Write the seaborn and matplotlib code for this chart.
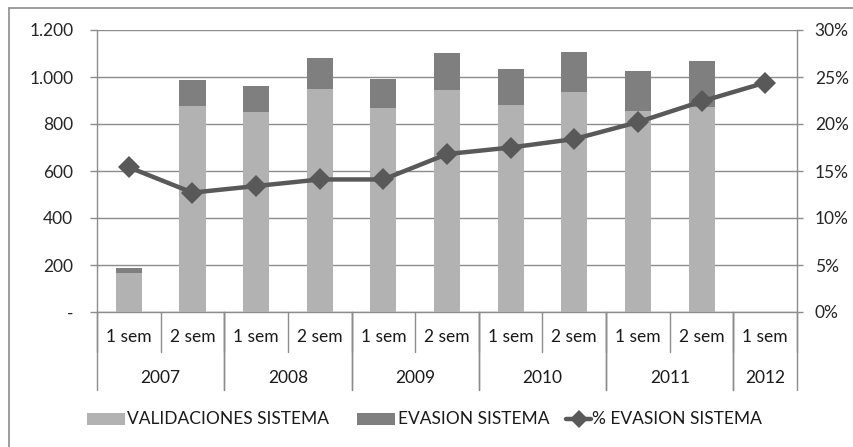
import matplotlib
matplotlib.use("Agg")
import matplotlib.pyplot as plt
from matplotlib.patches import Rectangle
from matplotlib.lines import Line2D
from matplotlib.ticker import FixedLocator, FuncFormatter
import numpy as np
import pandas as pd
import seaborn as sns

# Semesters and years on the two-level category axis
semestres = ["1 sem", "2 sem", "1 sem", "2 sem", "1 sem", "2 sem",
             "1 sem", "2 sem", "1 sem", "2 sem", "1 sem"]
anios = ["2007", "2008", "2009", "2010", "2011", "2012"]
anio_span = [2, 2, 2, 2, 2, 1]

# Series (thousands of trips); 2012 1 sem has only the percentage
validaciones = [167, 877, 851, 949, 869, 945, 881, 935, 855, 874, np.nan]
evasion = [19, 110, 111, 132, 122, 156, 152, 170, 169, 193, np.nan]
pct_evasion = [15.4, 12.7, 13.4, 14.1, 14.1, 16.8, 17.5, 18.4, 20.2, 22.4, 24.4]

LIGHT = "#b2b2b2"
DARK = "#7f7f7f"
LINE = "#595959"
GRID = "#8c8c8c"
FONT = ["Lato", "DejaVu Sans"]
FS = 12.5

sns.set_theme(style="white")
plt.rcParams["font.family"] = FONT
plt.rcParams["text.color"] = "#1a1a1a"

cats = [f"{i:02d}" for i in range(len(semestres))]
df = pd.DataFrame({
    "cat": cats,
    "validaciones": validaciones,
    "total": np.array(validaciones) + np.array(evasion),
    "pct": pct_evasion,
    "pos": np.arange(len(cats)),
})

W, H = 854, 447
fig = plt.figure(figsize=(W / 100, H / 100), dpi=100)
ax = fig.add_axes([97 / W, 1 - 312 / H, 700 / W, 282 / H])

# Stacked bars: full height in dark, validaciones drawn over it in light
sns.barplot(data=df, x="cat", y="total", order=cats, color=DARK,
            width=0.41, saturation=1, linewidth=0, edgecolor="none",
            ax=ax, zorder=2)
sns.barplot(data=df, x="cat", y="validaciones", order=cats, color=LIGHT,
            width=0.41, saturation=1, linewidth=0, edgecolor="none",
            ax=ax, zorder=3)

ax.set_xlim(-0.5, len(cats) - 0.5)
ax.set_ylim(0, 1200)
ax.yaxis.set_major_locator(FixedLocator(np.arange(0, 1201, 200)))
ax.yaxis.set_major_formatter(FuncFormatter(
    lambda v, p: "-" if v == 0 else f"{int(v):,}".replace(",", ".")))
ax.grid(axis="y", color=GRID, linewidth=1.0, zorder=0)
ax.set_axisbelow(True)
ax.set_xlabel("")
ax.set_ylabel("")
ax.set_xticks([])
for s in ["top", "right"]:
    ax.spines[s].set_visible(False)
for s in ["left", "bottom"]:
    ax.spines[s].set_color(GRID)
    ax.spines[s].set_linewidth(1.0)
ax.tick_params(axis="y", length=5, width=1.0, color=GRID, pad=12,
               labelsize=FS, left=True)

# Percentage line on the secondary axis
ax2 = ax.twinx()
sns.lineplot(data=df, x="pos", y="pct", ax=ax2, color=LINE, linewidth=3.2,
             marker="D", markersize=11, markeredgewidth=0, zorder=5)
ax2.set_xlim(-0.5, len(cats) - 0.5)
ax2.set_ylim(0, 30)
ax2.yaxis.set_major_locator(FixedLocator(np.arange(0, 31, 5)))
ax2.yaxis.set_major_formatter(FuncFormatter(lambda v, p: f"{int(v)}%"))
ax2.set_xlabel("")
ax2.set_ylabel("")
for s in ["top", "left", "bottom"]:
    ax2.spines[s].set_visible(False)
ax2.spines["right"].set_color(GRID)
ax2.spines["right"].set_linewidth(1.0)
ax2.tick_params(axis="y", length=4.3, width=1.0, color=GRID, pad=8.5,
                labelsize=FS, right=True)
ax2.grid(False)

# Two-level category labels below the plot
trans = ax.get_xaxis_transform()
px = 1 / 282  # one pixel in axes-height units
for i, lab in enumerate(semestres):
    ax.text(i, -25 * px, lab, transform=trans, ha="center", va="center",
            fontsize=FS, family=FONT)
for b in np.arange(-0.5, len(cats), 1.0):
    ax.add_line(Line2D([b, b], [0, -40 * px], transform=trans,
                       color=GRID, linewidth=1.0, clip_on=False))
start = 0
for yr, span in zip(anios, anio_span):
    ax.text(start + (span - 1) / 2, -66 * px, yr, transform=trans,
            ha="center", va="center", fontsize=FS, family=FONT)
    for b in (start - 0.5, start + span - 0.5):
        ax.add_line(Line2D([b, b], [0, -78 * px], transform=trans,
                           color=GRID, linewidth=1.0, clip_on=False))
    start += span

# Legend row
def fx(x):
    return x / W

def fy(y):
    return 1 - y / H

ly = 419
fig.add_artist(Rectangle((fx(87), fy(ly + 6)), 38 / W, 12 / H,
                         color=LIGHT, lw=0))
fig.text(fx(127), fy(ly), "VALIDACIONES SISTEMA", fontsize=FS,
         va="center", ha="left", family=FONT)
fig.add_artist(Rectangle((fx(357), fy(ly + 6)), 38 / W, 12 / H,
                         color=DARK, lw=0))
fig.text(fx(398), fy(ly), "EVASION SISTEMA", fontsize=FS,
         va="center", ha="left", family=FONT)
fig.add_artist(Line2D([fx(566), fx(591)], [fy(ly), fy(ly)], color=LINE,
                      linewidth=3.2))
fig.add_artist(Line2D([fx(578.5)], [fy(ly)], color=LINE, marker="D",
                      markersize=9, markeredgewidth=0, linestyle="none"))
fig.text(fx(592), fy(ly), "% EVASION SISTEMA", fontsize=FS,
         va="center", ha="left", family=FONT)

# Chart frame (top and left edges)
fig.add_artist(Line2D([fx(9.5), 1.0], [fy(7.5), fy(7.5)], color=GRID,
                      linewidth=1.2))
fig.add_artist(Line2D([fx(9.5), fx(9.5)], [fy(7.5), 0.0], color=GRID,
                      linewidth=1.2))

fig.savefig("out.png", dpi=100, facecolor="white")
